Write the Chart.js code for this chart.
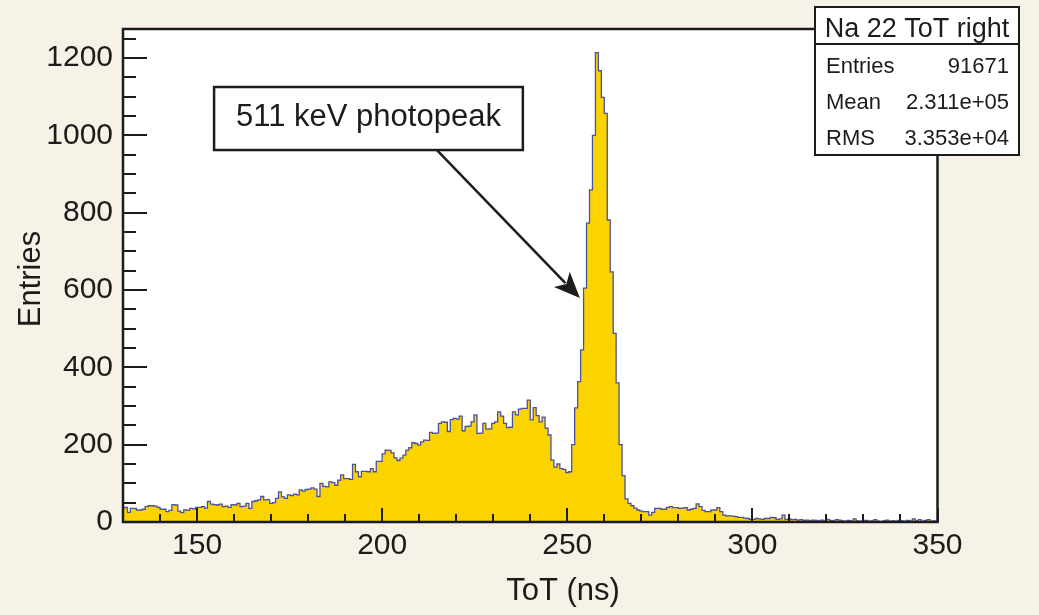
<!DOCTYPE html>
<html>
<head>
<meta charset="utf-8">
<script src="https://cdn.jsdelivr.net/npm/chart.js@4.4.1/dist/chart.umd.min.js"></script>
<style>
  html, body { margin: 0; padding: 0; background: #f6f2e8; }
  #wrap { width: 1039px; height: 615px; }
</style>
</head>
<body>
<div id="wrap"><canvas id="tot" width="1039" height="615"></canvas></div>
<script>
// histogram: 0.8 ns bins starting at 129.6 ns
const binStart = 129.6;
const binWidth = 0.8;
const counts = [
  36,
  38, 25, 35, 35, 31, 31, 33, 40, 42, 42,
  41, 38, 33, 33, 27, 30, 45, 44, 28, 24,
  31, 30, 35, 34, 38, 38, 40, 36, 53, 46,
  45, 44, 46, 40, 41, 38, 45, 44, 48, 40,
  41, 48, 35, 53, 55, 57, 66, 57, 58, 48,
  50, 61, 78, 65, 61, 70, 68, 72, 70, 83,
  80, 84, 85, 88, 85, 66, 100, 92, 91, 104,
  102, 95, 108, 122, 112, 112, 110, 149, 130, 117,
  131, 131, 130, 138, 130, 157, 157, 176, 186, 185,
  179, 166, 159, 165, 173, 186, 192, 205, 203, 199,
  207, 212, 211, 232, 229, 230, 255, 259, 258, 234,
  265, 268, 266, 274, 236, 247, 248, 259, 277, 229,
  230, 255, 240, 241, 255, 259, 285, 274, 255, 244,
  245, 285, 277, 292, 294, 294, 315, 264, 296, 275,
  259, 271, 243, 225, 160, 142, 150, 138, 136, 128,
  130, 200, 295, 363, 445, 605, 773, 859, 1000, 1214,
  1167, 1098, 1057, 781, 647, 488, 360, 200, 120, 60,
  48, 42, 36, 31, 28, 27, 27, 18, 25, 35,
  35, 33, 33, 38, 40, 37, 37, 35, 36, 37,
  31, 33, 35, 47, 40, 30, 27, 27, 31, 31,
  37, 27, 18, 16, 16, 15, 14, 12, 12, 10,
  9, 7, 7, 9, 8, 7, 9, 9, 12, 11,
  7, 8, 18, 7, 8, 6, 7, 5, 6, 4,
  5, 3, 5, 4, 3, 5, 3, 7, 4, 3,
  6, 5, 3, 2, 4, 3, 8, 3, 2, 3,
  4, 2, 3, 6, 2, 1, 3, 5, 2, 3,
  2, 4, 3, 2, 4, 3, 8, 3, 6, 2,
  4, 6, 2, 3, 0
];

const xTicks = [150, 200, 250, 300, 350];
const yTicks = [0, 200, 400, 600, 800, 1000, 1200];
const xMinor = [140, 160, 170, 180, 190, 210, 220, 230, 240, 260, 270, 280, 290, 310, 320, 330, 340];
const yMinor = [50, 100, 150, 250, 300, 350, 450, 500, 550, 650, 700, 750, 850, 900, 950, 1050, 1100, 1150, 1250];

const xTitle = 'ToT (ns)';
const yTitle = 'Entries';
const histName = 'Na 22 ToT right';
const statLabels = ['Entries', 'Mean', 'RMS'];
const statValues = ['91671', '2.311e+05', '3.353e+04'];

// annotation box corners and arrow in data units
const noteText = '511 keV photopeak';
const noteBox = [154.6, 1125, 238.0, 962];
const noteArrow = [214.8, 962, 253.4, 579];

const FONT = "'Liberation Sans', Arial, Helvetica, sans-serif";
const INK = '#1c1c1c';

const points = counts.map((c, i) => ({ x: binStart + i * binWidth, y: c }));
points.push({ x: binStart + counts.length * binWidth, y: counts[counts.length - 1] });

const rootStyle = {
  id: 'rootStyle',
  beforeDraw(chart) {
    const { ctx, chartArea: a } = chart;
    ctx.save();
    ctx.fillStyle = '#f6f2e8';
    ctx.fillRect(0, 0, chart.width, chart.height);
    ctx.fillStyle = '#ffffff';
    ctx.fillRect(a.left, a.top, a.right - a.left, a.bottom - a.top);
    ctx.restore();
  },
  afterDatasetsDraw(chart) {
    const { ctx, chartArea: a, scales: { x, y } } = chart;
    ctx.save();
    ctx.strokeStyle = INK;
    ctx.lineWidth = 2;
    ctx.beginPath();
    yTicks.forEach(v => { const p = Math.round(y.getPixelForValue(v)); ctx.moveTo(a.left, p); ctx.lineTo(a.left + 24, p); });
    yMinor.forEach(v => { const p = Math.round(y.getPixelForValue(v)); ctx.moveTo(a.left, p); ctx.lineTo(a.left + 13, p); });
    xTicks.forEach(v => { const p = Math.round(x.getPixelForValue(v)); ctx.moveTo(p, a.bottom); ctx.lineTo(p, a.bottom - 14); });
    xMinor.forEach(v => { const p = Math.round(x.getPixelForValue(v)); ctx.moveTo(p, a.bottom); ctx.lineTo(p, a.bottom - 8); });
    ctx.stroke();
    ctx.lineWidth = 2.5;
    ctx.strokeRect(a.left, a.top, a.right - a.left, a.bottom - a.top);
    ctx.restore();
  },
  afterDraw(chart) {
    const { ctx, scales: { x, y } } = chart;
    ctx.save();
    ctx.fillStyle = INK;

    // axis titles
    ctx.font = `31px ${FONT}`;
    ctx.textAlign = 'center';
    ctx.textBaseline = 'alphabetic';
    ctx.fillText(xTitle, 563, 600);
    ctx.save();
    ctx.translate(40, 279);
    ctx.rotate(-Math.PI / 2);
    ctx.fillText(yTitle, 0, 0);
    ctx.restore();

    // annotation
    const bx0 = x.getPixelForValue(noteBox[0]), by0 = y.getPixelForValue(noteBox[1]);
    const bx1 = x.getPixelForValue(noteBox[2]), by1 = y.getPixelForValue(noteBox[3]);
    ctx.fillStyle = '#ffffff';
    ctx.fillRect(bx0, by0, bx1 - bx0, by1 - by0);
    ctx.strokeStyle = INK;
    ctx.lineWidth = 2.5;
    ctx.strokeRect(bx0, by0, bx1 - bx0, by1 - by0);
    ctx.fillStyle = INK;
    ctx.font = `31px ${FONT}`;
    ctx.fillText(noteText, (bx0 + bx1) / 2, by1 - 24);

    const ax0 = x.getPixelForValue(noteArrow[0]), ay0 = y.getPixelForValue(noteArrow[1]);
    const ax1 = x.getPixelForValue(noteArrow[2]), ay1 = y.getPixelForValue(noteArrow[3]);
    const ang = Math.atan2(ay1 - ay0, ax1 - ax0);
    const headL = 26, headW = 11;
    ctx.lineWidth = 2.5;
    ctx.beginPath();
    ctx.moveTo(ax0, ay0);
    ctx.lineTo(ax1 - Math.cos(ang) * headL * 0.8, ay1 - Math.sin(ang) * headL * 0.8);
    ctx.stroke();
    ctx.beginPath();
    ctx.moveTo(ax1, ay1);
    ctx.lineTo(ax1 - Math.cos(ang) * headL - Math.sin(ang) * headW, ay1 - Math.sin(ang) * headL + Math.cos(ang) * headW);
    ctx.lineTo(ax1 - Math.cos(ang) * headL * 0.75, ay1 - Math.sin(ang) * headL * 0.75);
    ctx.lineTo(ax1 - Math.cos(ang) * headL + Math.sin(ang) * headW, ay1 - Math.sin(ang) * headL - Math.cos(ang) * headW);
    ctx.closePath();
    ctx.fill();

    // stats box
    const sx0 = 815, sy0 = 7, sx1 = 1019, sy1 = 155;
    ctx.fillStyle = '#ffffff';
    ctx.fillRect(sx0, sy0, sx1 - sx0, sy1 - sy0);
    ctx.lineWidth = 2;
    ctx.strokeRect(sx0, sy0, sx1 - sx0, sy1 - sy0);
    ctx.beginPath();
    ctx.moveTo(sx0, 44);
    ctx.lineTo(sx1, 44);
    ctx.stroke();
    ctx.fillStyle = INK;
    ctx.font = `27px ${FONT}`;
    ctx.textAlign = 'center';
    ctx.fillText(histName, (sx0 + sx1) / 2, 37);
    ctx.font = `22px ${FONT}`;
    const rowY = [73, 109, 145];
    statLabels.forEach((t, i) => {
      ctx.textAlign = 'left';
      ctx.fillText(t, 826, rowY[i]);
      ctx.textAlign = 'right';
      ctx.fillText(statValues[i], 1009, rowY[i]);
    });
    ctx.restore();
  }
};

new Chart(document.getElementById('tot'), {
  type: 'line',
  data: {
    datasets: [{
      data: points,
      stepped: true,
      fill: 'origin',
      backgroundColor: '#fbd400',
      borderColor: '#4b51a0',
      borderWidth: 1.3,
      pointRadius: 0,
      tension: 0,
    }],
  },
  options: {
    responsive: false,
    animation: false,
    events: [],
    layout: { padding: { left: 0, top: 29, right: 101.5, bottom: 0 } },
    plugins: { legend: { display: false }, tooltip: { enabled: false } },
    scales: {
      x: {
        type: 'linear',
        min: 130,
        max: 350,
        grid: { display: false, drawTicks: false },
        border: { display: false },
        ticks: { font: { size: 30, family: FONT }, color: INK, padding: 6, maxRotation: 0, autoSkip: false, callback: v => String(v) },
        afterBuildTicks: s => { s.ticks = xTicks.map(v => ({ value: v })); },
        afterFit: s => { s.height = 93; },
      },
      y: {
        type: 'linear',
        min: 0,
        max: 1275,
        grid: { display: false, drawTicks: false },
        border: { display: false },
        ticks: { font: { size: 30, family: FONT }, color: INK, padding: 10, callback: v => String(v) },
        afterBuildTicks: s => { s.ticks = yTicks.map(v => ({ value: v })); },
        afterFit: s => { s.width = 123; },
      },
    },
  },
  plugins: [rootStyle],
});
</script>
</body>
</html>
